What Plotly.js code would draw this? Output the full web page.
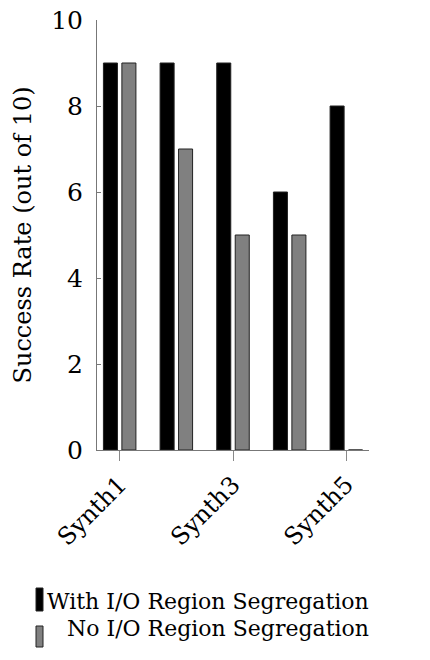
<!DOCTYPE html>
<html>
<head>
<meta charset="utf-8">
<script src="https://cdn.plot.ly/plotly-3.0.1.min.js"></script>
<style>html,body{margin:0;padding:0;background:#fff;}#chart{width:430px;height:660px;}</style>
</head>
<body>
<div id="chart"></div>
<script>
const categories = ['Synth1', 'Synth2', 'Synth3', 'Synth4', 'Synth5'];
const withSegregation = [9, 9, 9, 6, 8];
const noSegregation = [9, 7, 5, 5, 0];
const shownTicks = ['Synth1', 'Synth3', 'Synth5'];
const seriesNames = ['With I/O Region Segregation', 'No I/O Region Segregation'];
const yTicks = [0, 2, 4, 6, 8, 10];

const FONT = 'DejaVu Serif';
const L = 97, R = 369, T = 20, B = 450;
const pw = R - L, ph = B - T;
const px = x => (x - L) / pw;
const py = y => (B - y) / ph;

const traces = [
  {type: 'bar', x: categories, y: withSegregation, name: seriesNames[0],
   marker: {color: '#000000', line: {color: '#222222', width: 1}}, showlegend: false},
  {type: 'bar', x: categories, y: noSegregation, name: seriesNames[1],
   marker: {color: '#808080', line: {color: '#222222', width: 1}}, showlegend: false}
];

const layout = {
  width: 430, height: 660,
  margin: {l: L, r: 430 - R, t: T, b: 660 - B},
  paper_bgcolor: '#fff', plot_bgcolor: '#fff',
  font: {family: FONT, size: 24, color: '#000'},
  barmode: 'group', bargap: 0.348, bargroupgap: 0.24,
  xaxis: {
    type: 'category', range: [-0.4, 4.4],
    tickmode: 'array', tickvals: shownTicks, ticktext: shownTicks,
    tickangle: -45, ticks: 'outside', ticklen: 10, tickcolor: '#888',
    showline: true, linecolor: '#777', linewidth: 1, showgrid: false, zeroline: false,
    tickfont: {family: FONT, size: 24}, automargin: false
  },
  yaxis: {
    range: [0, 10], tickmode: 'array', tickvals: yTicks,
    ticks: 'inside', ticklen: 4, tickcolor: '#777',
    showline: true, linecolor: '#777', linewidth: 1, showgrid: false, zeroline: false,
    tickfont: {family: FONT, size: 25}, ticklabelstandoff: 8,
    title: {text: 'Success Rate (out of 10)', font: {family: FONT, size: 24}, standoff: 12},
    automargin: false
  },
  annotations: [
    {xref: 'paper', yref: 'paper', x: px(371), y: py(601), xanchor: 'right', yanchor: 'middle',
     text: seriesNames[0], showarrow: false, font: {family: FONT, size: 22}},
    {xref: 'paper', yref: 'paper', x: px(371), y: py(628), xanchor: 'right', yanchor: 'middle',
     text: seriesNames[1], showarrow: false, font: {family: FONT, size: 22}}
  ],
  shapes: [
    {type: 'rect', xref: 'paper', yref: 'paper', x0: px(36), x1: px(43), y0: py(611), y1: py(588),
     fillcolor: '#000', line: {color: '#222', width: 1}},
    {type: 'rect', xref: 'paper', yref: 'paper', x0: px(36), x1: px(43), y0: py(647), y1: py(626),
     fillcolor: '#808080', line: {color: '#222', width: 1}}
  ]
};

Plotly.newPlot('chart', traces, layout, {displayModeBar: false, staticPlot: true});
</script>
</body>
</html>
